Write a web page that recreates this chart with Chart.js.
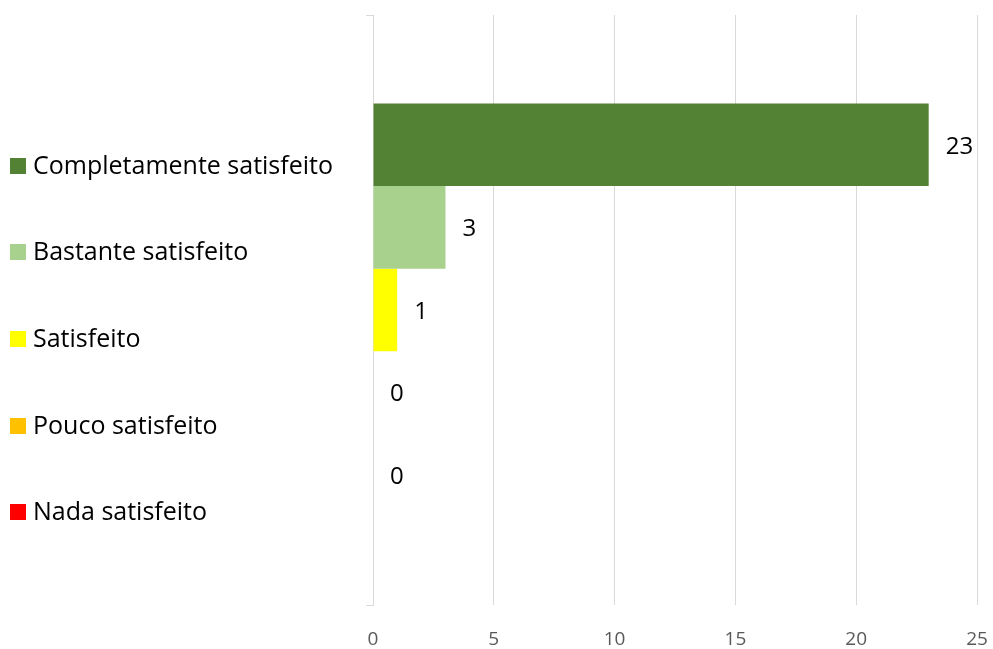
<!DOCTYPE html>
<html>
<head>
<meta charset="utf-8">
<script src="https://cdn.jsdelivr.net/npm/chart.js@4/dist/chart.umd.min.js"></script>
<style>
  html, body { margin: 0; padding: 0; background: #ffffff; }
  #wrap { width: 993px; height: 649px; }
</style>
</head>
<body>
<div id="wrap"><canvas id="c" width="993" height="649"></canvas></div>
<script>
// ---- data ----
const categories = ['Completamente satisfeito', 'Bastante satisfeito', 'Satisfeito', 'Pouco satisfeito', 'Nada satisfeito'];
const values = [23, 3, 1, 0, 0];
const axisMin = 0;
const axisMax = 25;
const axisStep = 5;

// ---- styles ----
const colors = ['#548235', '#A9D18E', '#FFFF00', '#FFC000', '#FF0000'];
const FONT = '"Open Sans", "Noto Sans", sans-serif';

const datasets = categories.map((name, i) => ({
  label: name,
  data: [values[i]],
  backgroundColor: colors[i],
  borderWidth: 0,
  categoryPercentage: 0.7,
  barPercentage: 1.0
}));

const valueLabels = {
  id: 'valueLabels',
  afterDatasetsDraw(chart) {
    const ctx = chart.ctx;
    ctx.save();
    ctx.font = '24px ' + FONT;
    ctx.fillStyle = '#000000';
    ctx.textAlign = 'left';
    ctx.textBaseline = 'middle';
    chart.data.datasets.forEach((ds, di) => {
      const meta = chart.getDatasetMeta(di);
      meta.data.forEach((el, j) => {
        ctx.fillText(String(ds.data[j]), el.x + 17, el.y + 2);
      });
    });
    ctx.restore();
  }
};

const sideLegend = {
  id: 'sideLegend',
  afterDraw(chart) {
    const ctx = chart.ctx;
    ctx.save();
    ctx.font = '25px ' + FONT;
    ctx.textAlign = 'left';
    ctx.textBaseline = 'middle';
    const y0 = 165.5, step = 86.7, box = 16;
    chart.data.datasets.forEach((ds, i) => {
      const y = y0 + i * step;
      ctx.fillStyle = ds.backgroundColor;
      ctx.fillRect(10, Math.round(y - box / 2), box, box);
      ctx.fillStyle = '#000000';
      ctx.fillText(ds.label, 33, y + 1);
    });
    ctx.restore();
  }
};

new Chart(document.getElementById('c'), {
  type: 'bar',
  data: { labels: [''], datasets },
  plugins: [valueLabels, sideLegend],
  options: {
    responsive: false,
    animation: false,
    indexAxis: 'y',
    layout: { padding: { left: 366, right: 16, top: 15, bottom: 0 } },
    plugins: {
      legend: { display: false },
      tooltip: { enabled: false }
    },
    scales: {
      x: {
        min: axisMin,
        max: axisMax,
        afterFit(scale) {
          scale.height = 44;
          scale.paddingLeft = 0;
          scale.paddingRight = 0;
        },
        ticks: {
          stepSize: axisStep,
          color: '#595959',
          font: { family: FONT, size: 19, lineHeight: 1 },
          padding: 25
        },
        grid: { color: '#D9D9D9', lineWidth: 1, drawTicks: false },
        border: { display: false }
      },
      y: {
        ticks: { display: false },
        grid: { drawOnChartArea: false, drawTicks: true, tickLength: 7, color: '#D9D9D9', offset: true },
        border: { display: true, color: '#D9D9D9', width: 1 }
      }
    }
  }
});
</script>
</body>
</html>
